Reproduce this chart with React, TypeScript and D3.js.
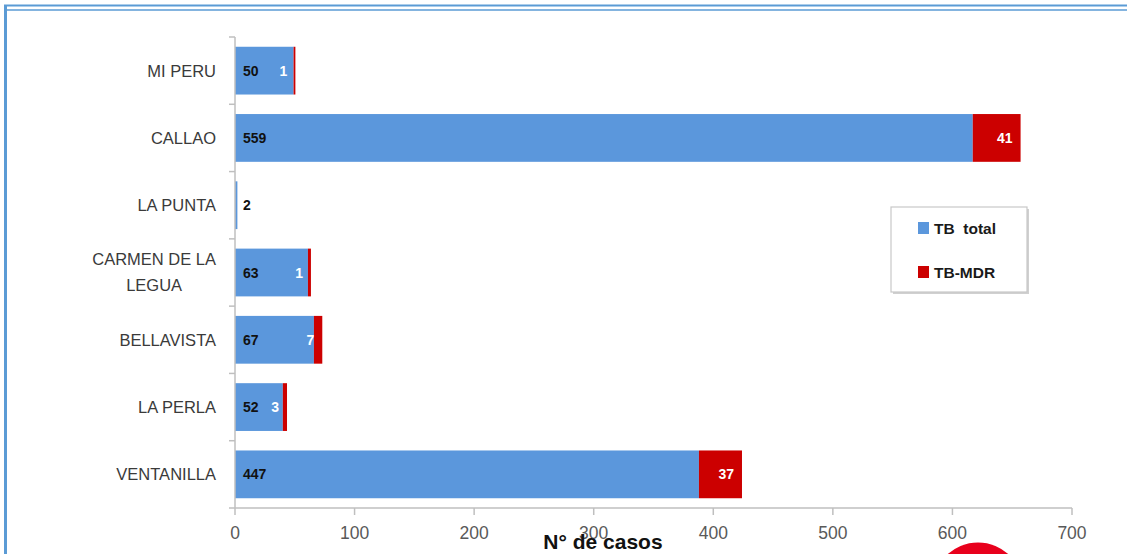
import React, { useEffect, useRef } from "react";
import * as d3 from "d3";

const categories = ["MI PERU", "CALLAO", "LA PUNTA", "CARMEN DE LA LEGUA", "BELLAVISTA", "LA PERLA", "VENTANILLA"];
const categoryLines = [["MI PERU"], ["CALLAO"], ["LA PUNTA"], ["CARMEN DE LA", "LEGUA"], ["BELLAVISTA"], ["LA PERLA"], ["VENTANILLA"]];
// bar lengths as drawn in the picture
const totalBars = [49, 617, 2, 61, 66, 40, 388];
const mdrBars = [1.5, 40, 0, 2.5, 7, 3.5, 36];
// printed data labels
const totalLabels = ["50", "559", "2", "63", "67", "52", "447"];
const mdrLabels = ["1", "41", "", "1", "7", "3", "37"];
const xTicks = [0, 100, 200, 300, 400, 500, 600, 700];
const seriesNames = ["TB  total", "TB-MDR"];
const colors = ["#5b97dc", "#cc0000"];

const W = 1127;
const H = 554;
const FONT = "'Liberation Sans', Arial, sans-serif";

export default function App() {
  const ref = useRef<SVGSVGElement | null>(null);

  useEffect(() => {
    const svg = d3.select(ref.current);
    svg.selectAll("*").remove();

    const x = d3.scaleLinear().domain([0, 700]).range([235, 1072]);
    const y = d3.scaleBand().domain(categories).range([37, 508]).paddingInner(0.29).paddingOuter(0.145);
    const axisY = 508;

    // frame
    svg.append("rect").attr("x", 0).attr("y", 0).attr("width", W).attr("height", H).attr("fill", "#fff");
    svg.append("line").attr("x1", 4).attr("x2", W).attr("y1", 5.5).attr("y2", 5.5).attr("stroke", "#5b9bd5").attr("stroke-width", 2);
    svg.append("line").attr("x1", 5).attr("x2", W).attr("y1", 10).attr("y2", 10).attr("stroke", "#5b9bd5").attr("stroke-width", 1.5);
    svg.append("line").attr("x1", 5.5).attr("x2", 5.5).attr("y1", 5).attr("y2", H).attr("stroke", "#5b9bd5").attr("stroke-width", 3);

    // bars
    const g = svg.append("g");
    categories.forEach((c, i) => {
      const y0 = y(c)!;
      const bh = y.bandwidth();
      g.append("rect").attr("x", x(0)).attr("y", y0).attr("width", x(totalBars[i]) - x(0)).attr("height", bh).attr("fill", colors[0]);
      if (mdrBars[i] > 0) {
        g.append("rect").attr("x", x(totalBars[i])).attr("y", y0).attr("width", x(totalBars[i] + mdrBars[i]) - x(totalBars[i])).attr("height", bh).attr("fill", colors[1]);
      }
      g.append("text").attr("x", x(0) + 8).attr("y", y0 + bh / 2).attr("dy", "0.36em")
        .attr("font-family", FONT).attr("font-weight", "bold").attr("font-size", 14).attr("fill", "#111")
        .text(totalLabels[i]);
      if (mdrLabels[i]) {
        g.append("text").attr("x", x(totalBars[i] + mdrBars[i]) - 8).attr("y", y0 + bh / 2).attr("dy", "0.36em")
          .attr("text-anchor", "end")
          .attr("font-family", FONT).attr("font-weight", "bold").attr("font-size", 14).attr("fill", "#fff")
          .text(mdrLabels[i]);
      }
    });

    // y axis
    svg.append("line").attr("x1", x(0)).attr("x2", x(0)).attr("y1", 37).attr("y2", axisY).attr("stroke", "#bfbfbf").attr("stroke-width", 1.5);
    const step = y.step();
    for (let k = 0; k <= categories.length; k++) {
      const yy = 37 + k * step;
      svg.append("line").attr("x1", x(0) - 6).attr("x2", x(0)).attr("y1", yy).attr("y2", yy).attr("stroke", "#bfbfbf").attr("stroke-width", 1.5);
    }
    categories.forEach((c, i) => {
      const lines = categoryLines[i];
      const cy = y(c)! + y.bandwidth() / 2;
      if (lines.length === 1) {
        svg.append("text").attr("x", 216).attr("y", cy).attr("dy", "0.36em").attr("text-anchor", "end")
          .attr("font-family", FONT).attr("font-size", 16.5).attr("fill", "#3a3a3a").text(lines[0]);
      } else {
        const t = svg.append("text").attr("font-family", FONT).attr("font-size", 16.5).attr("fill", "#3a3a3a").attr("text-anchor", "middle");
        const tmp = t.append("tspan").text(lines[0]);
        const w = (tmp.node() as SVGTextContentElement).getComputedTextLength();
        tmp.remove();
        const lh = 26;
        lines.forEach((ln, j) => {
          t.append("tspan").attr("x", 216 - w / 2).attr("y", cy + (j - (lines.length - 1) / 2) * lh).attr("dy", "0.36em").text(ln);
        });
      }
    });

    // x axis
    svg.append("line").attr("x1", x(0)).attr("x2", x(700)).attr("y1", axisY).attr("y2", axisY).attr("stroke", "#bfbfbf").attr("stroke-width", 1.5);
    xTicks.forEach((t) => {
      svg.append("line").attr("x1", x(t)).attr("x2", x(t)).attr("y1", axisY).attr("y2", axisY + 7).attr("stroke", "#bfbfbf").attr("stroke-width", 1.5);
      svg.append("text").attr("x", x(t)).attr("y", 539).attr("text-anchor", "middle")
        .attr("font-family", FONT).attr("font-size", 17.5).attr("fill", "#595959").text(String(t));
    });
    svg.append("text").attr("x", 603).attr("y", 549).attr("text-anchor", "middle")
      .attr("font-family", FONT).attr("font-weight", "bold").attr("font-size", 21).attr("fill", "#111").text("N° de casos");

    // legend
    const lg = svg.append("g");
    lg.append("rect").attr("x", 893).attr("y", 209).attr("width", 136).attr("height", 85).attr("fill", "#d0d0d0");
    lg.append("rect").attr("x", 891).attr("y", 207).attr("width", 136).attr("height", 85).attr("fill", "#fff").attr("stroke", "#c8c8c8").attr("stroke-width", 1.2);
    seriesNames.forEach((s, i) => {
      const yy = 228 + i * 44;
      lg.append("rect").attr("x", 918).attr("y", yy - 6).attr("width", 11).attr("height", 12).attr("fill", colors[i]);
      lg.append("text").attr("x", 934).attr("y", yy).attr("dy", "0.36em")
        .attr("font-family", FONT).attr("font-weight", "bold").attr("font-size", 15.5).attr("fill", "#1a1a1a")
        .attr("xml:space", "preserve").style("white-space", "pre").text(s);
    });

    // partial red circle at bottom
    svg.append("circle").attr("cx", 978).attr("cy", 588).attr("r", 45.5).attr("fill", "#e8001c");
  }, []);

  return (
    <svg ref={ref} width={W} height={H} style={{ position: "absolute", left: 0, top: 0, display: "block" }} />
  );
}
